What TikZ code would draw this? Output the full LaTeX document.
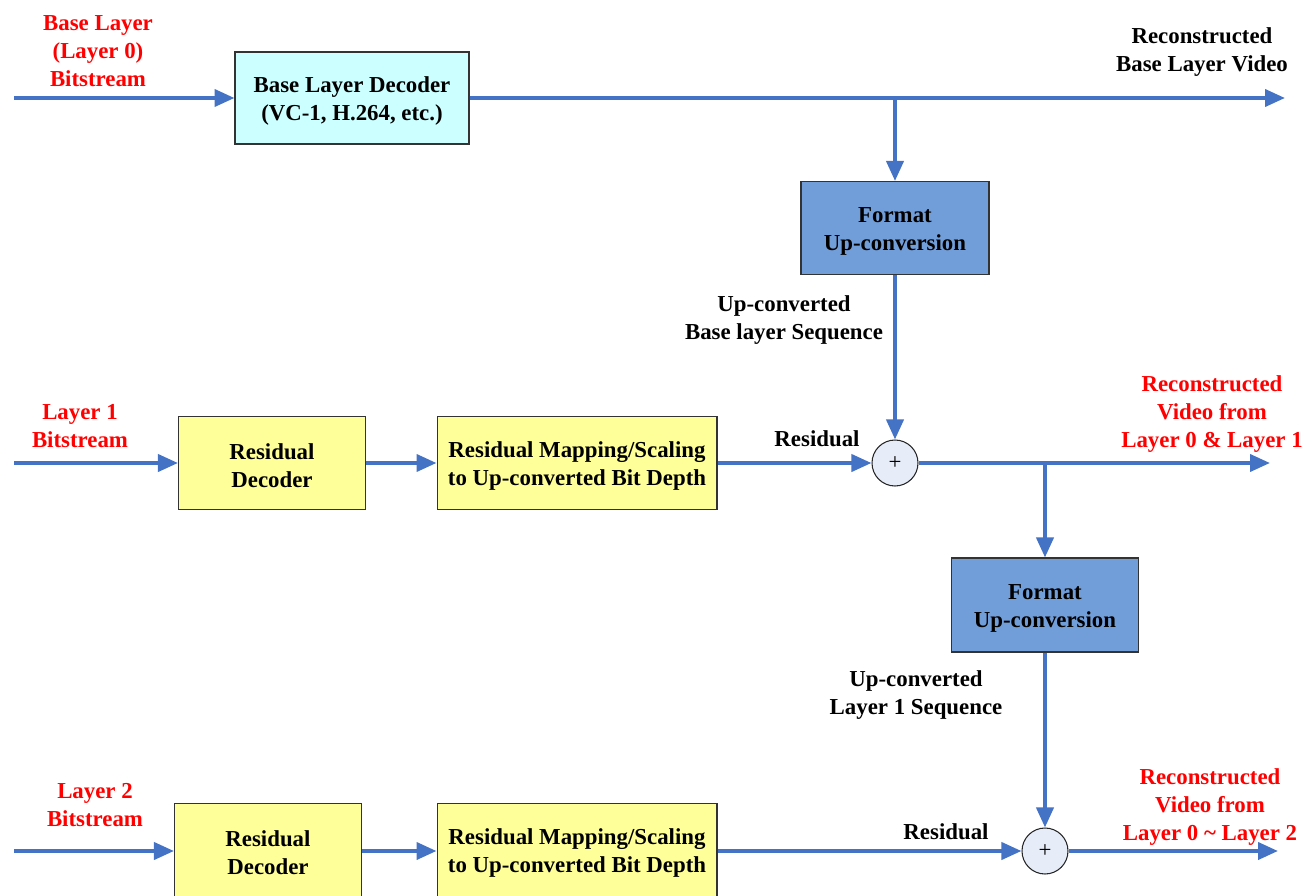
\documentclass[tikz,border=0pt]{standalone}
\usepackage{fontspec}
\setmainfont{Liberation Serif}
\usepackage{xcolor}
\usetikzlibrary{arrows.meta, positioning, calc}
\definecolor{flowblue}{RGB}{68,114,196}
\definecolor{lightcyan}{RGB}{204,255,255}
\definecolor{lightyellow}{RGB}{255,255,153}
\definecolor{convblue}{RGB}{113,158,217}
\definecolor{sumfill}{RGB}{230,236,248}
\definecolor{labelred}{RGB}{255,0,0}

\begin{document}
\begin{tikzpicture}[
    x=0.02cm, y=-0.02cm,
    >={Triangle[length=0.4cm, width=0.34cm]},
    flow/.style={->, line width=2.2pt, flowblue},
    block/.style={draw=black!80, line width=0.6pt, align=center, font=\fontsize{13}{15.9}\selectfont\bfseries, inner sep=0pt, text height=1.0cm},
    sumnode/.style={draw=black!85, line width=0.6pt, circle, fill=sumfill, minimum size=0.92cm, inner sep=0pt, font=\fontsize{13}{15}\selectfont},
    blabel/.style={align=center, font=\fontsize{13}{15.9}\selectfont\bfseries},
    rlabel/.style={blabel, text=labelred},
]
    \useasboundingbox (0,0) rectangle (1316,896);

    % base layer
    \node[block, fill=lightcyan, minimum width=4.68cm, minimum height=1.84cm] (dec0) at (352,98) {Base Layer Decoder\\(VC-1, H.264, etc.)};
    \node[block, fill=convblue, minimum width=3.76cm, minimum height=1.86cm] (fmt1) at (895,228) {Format\\Up-conversion};
    \coordinate (in0) at (14,98);
    \coordinate (out0) at (1285,98);
    \node[rlabel] (lab0) at (98,51) {Base Layer\\(Layer 0)\\Bitstream};
    \node[blabel] (rec0) at (1202,52) {Reconstructed\\Base Layer Video};
    \node[blabel] (seq0) at (784,320) {Up-converted\\Base layer Sequence};

    % layer 1
    \node[block, fill=lightyellow, minimum width=3.74cm, minimum height=1.86cm] (res1) at (272,463) {Residual\\Decoder};
    \node[block, fill=lightyellow, minimum width=5.6cm, minimum height=1.86cm] (map1) at (577,463) {Residual Mapping/Scaling\\to Up-converted Bit Depth};
    \node[sumnode] (sum1) at (895,463) {+};
    \node[block, fill=convblue, minimum width=3.74cm, minimum height=1.88cm] (fmt2) at (1045,605) {Format\\Up-conversion};
    \coordinate (in1) at (14,463);
    \coordinate (out1) at (1270,463);
    \node[rlabel] (lab1) at (80,426) {Layer 1\\Bitstream};
    \node[blabel] (resl1) at (817,439) {Residual};
    \node[rlabel] (rec1) at (1212,414) {Reconstructed\\Video from\\Layer 0 \& Layer 1};
    \node[blabel] (seq1) at (916,695) {Up-converted\\Layer 1 Sequence};

    % layer 2
    \node[block, fill=lightyellow, minimum width=3.74cm, minimum height=1.86cm] (res2) at (268,850) {Residual\\Decoder};
    \node[block, fill=lightyellow, minimum width=5.6cm, minimum height=1.86cm] (map2) at (577,850) {Residual Mapping/Scaling\\to Up-converted Bit Depth};
    \node[sumnode] (sum2) at (1045,851) {+};
    \coordinate (in2) at (14,851);
    \coordinate (out2) at (1278,851);
    \node[rlabel] (lab2) at (95,805) {Layer 2\\Bitstream};
    \node[blabel] (resl2) at (946,832) {Residual};
    \node[rlabel] (rec2) at (1210,807) {Reconstructed\\Video from\\Layer 0 \textasciitilde{} Layer 2};

    % connectors
    \draw[flow] (in0) -- (dec0);
    \draw[flow] (dec0) -- (out0);
    \draw[flow] (dec0.east -| fmt1) -- (fmt1);
    \draw[flow] (fmt1) -- (sum1);
    \draw[flow] (in1) -- (res1);
    \draw[flow] (res1) -- (map1);
    \draw[flow] (map1) -- (sum1);
    \draw[flow] (sum1) -- (out1);
    \draw[flow] (sum1.east -| fmt2) -- (fmt2);
    \draw[flow] (fmt2) -- (sum2);
    \draw[flow] (in2) -- (in2 -| res2.west);
    \draw[flow] (res2.east |- sum2) -- (map2.west |- sum2);
    \draw[flow] (map2.east |- sum2) -- (sum2);
    \draw[flow] (sum2) -- (out2);
\end{tikzpicture}
\end{document}
